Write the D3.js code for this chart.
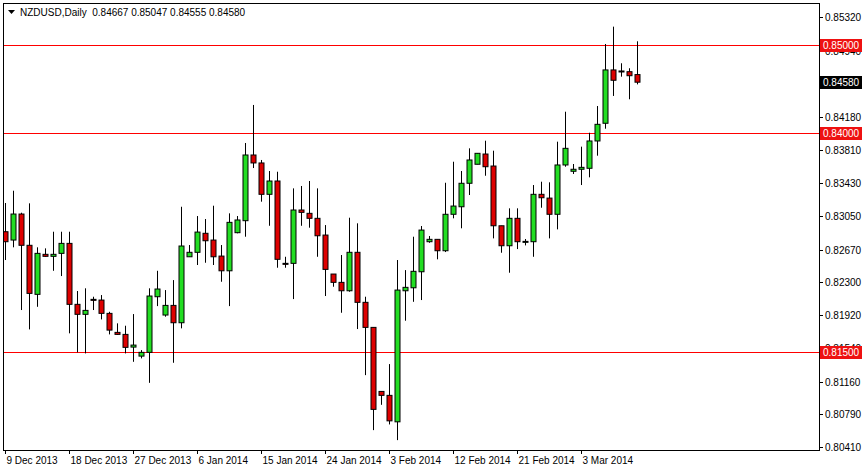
<!DOCTYPE html>
<html>
<head>
<meta charset="utf-8">
<script src="https://cdn.jsdelivr.net/npm/d3@7"></script>
<style>
  body { margin: 0; background: #fff; }
  text { font-family: "Liberation Sans", Arial, sans-serif; font-size: 10px; }
</style>
</head>
<body>
<svg id="chart" width="864" height="470"></svg>
<script>
// daily candles, NZDUSD
var opens  = [0.82873,0.82778,0.83075,0.82718,0.82158,0.82615,0.82592,0.82626,0.82740,0.82044,
              0.81930,0.82101,0.82093,0.81941,0.81724,0.81701,0.81556,0.81453,0.81496,0.82131,
              0.81922,0.82032,0.81834,0.82587,0.82638,0.82855,0.82778,0.82595,0.82427,0.82862,
              0.82999,0.83749,0.83658,0.83300,0.83452,0.82512,0.82512,0.83121,0.83083,0.83026,
              0.82835,0.82390,0.82295,0.82199,0.82638,0.82067,0.81781,0.81050,0.81005,0.80703,
              0.82199,0.82233,0.82416,0.82759,0.82786,0.82656,0.83072,0.83158,0.83426,0.83643,
              0.83760,0.83623,0.82941,0.82713,0.83026,0.82760,0.82759,0.83300,0.83257,0.83072,
              0.83635,0.83563,0.83586,0.83597,0.83909,0.84111,0.84720,0.84708,0.84700,0.84667];
var highs  = [0.83201,0.83341,0.83090,0.83197,0.82695,0.82683,0.82873,0.82873,0.82873,0.82196,
              0.82227,0.82131,0.82150,0.81959,0.81827,0.81800,0.81933,0.81522,0.82227,0.82427,
              0.82207,0.82321,0.83158,0.82721,0.83052,0.83018,0.83170,0.82721,0.83083,0.83052,
              0.83886,0.84320,0.83692,0.83566,0.83558,0.82587,0.83368,0.83395,0.83452,0.83368,
              0.82949,0.82390,0.82607,0.83033,0.82969,0.82131,0.81781,0.81050,0.81362,0.82550,
              0.82435,0.82816,0.82938,0.82824,0.82786,0.83432,0.83672,0.83566,0.83825,0.83768,
              0.83912,0.83798,0.82941,0.83140,0.83140,0.82790,0.83406,0.83444,0.83437,0.83901,
              0.84243,0.83646,0.83844,0.84003,0.84308,0.85016,0.85214,0.84796,0.84739,0.85047];
var lows   = [0.82550,0.82695,0.81979,0.81758,0.82016,0.82587,0.82427,0.82367,0.81713,0.81496,
              0.81484,0.81979,0.81872,0.81701,0.81695,0.81484,0.81388,0.81427,0.81148,0.82024,
              0.81903,0.81377,0.81770,0.82587,0.82493,0.82519,0.82493,0.82302,0.82024,0.82855,
              0.82816,0.83600,0.83216,0.82941,0.82462,0.82462,0.82104,0.82941,0.82919,0.82587,
              0.82139,0.82245,0.81948,0.82188,0.81762,0.81236,0.80608,0.80897,0.80673,0.80494,
              0.81857,0.82073,0.82093,0.82747,0.82558,0.82641,0.83026,0.82912,0.83292,0.83643,
              0.83512,0.82797,0.82633,0.82405,0.82675,0.82717,0.82587,0.83147,0.82797,0.82900,
              0.83615,0.83532,0.83406,0.83494,0.83741,0.84049,0.84423,0.84643,0.84385,0.84555];
var closes = [0.82759,0.83075,0.82718,0.82169,0.82626,0.82592,0.82615,0.82740,0.82044,0.81930,
              0.81975,0.82099,0.81941,0.81750,0.81701,0.81553,0.81579,0.81496,0.82139,0.82219,
              0.82032,0.81834,0.82710,0.82638,0.82869,0.82770,0.82587,0.82427,0.82980,0.83007,
              0.83749,0.83658,0.83300,0.83452,0.82558,0.82510,0.83121,0.83094,0.83026,0.82827,
              0.82443,0.82295,0.82199,0.82638,0.82067,0.81781,0.80845,0.81005,0.80714,0.82207,
              0.82238,0.82421,0.82892,0.82786,0.82656,0.83072,0.83166,0.83426,0.83692,0.83768,
              0.83615,0.82941,0.82713,0.83026,0.82759,0.82763,0.83300,0.83261,0.83072,0.83635,
              0.83825,0.83586,0.83608,0.83909,0.84099,0.84720,0.84602,0.84697,0.84654,0.84580];

var dateLabels = ["9 Dec 2013","18 Dec 2013","27 Dec 2013","6 Jan 2014","15 Jan 2014",
                  "24 Jan 2014","3 Feb 2014","12 Feb 2014","21 Feb 2014","3 Mar 2014"];
var priceTicks = [0.85320,0.84940,0.84580,0.84180,0.83810,0.83430,0.83050,0.82670,
                  0.82300,0.81920,0.81540,0.81160,0.80790,0.80410];
var levels = [0.85000, 0.84000, 0.81500];
var lastPrice = 0.84580;

var svg = d3.select("#chart");
// ojo: "top" es window.top, por eso otros nombres
var pL = 3, pR = 819, pT = 3, pB = 450;

var x = d3.scaleLinear().domain([0, 79]).range([5, 637]);
var y = d3.scaleLinear().domain([0.84, 0.85]).range([133, 45.4]);

// marco
svg.append("rect").attr("x", pL + 0.5).attr("y", pT + 0.5)
  .attr("width", pR - pL).attr("height", pB - pT)
  .attr("fill", "#fff").attr("stroke", "#000");

svg.append("clipPath").attr("id", "plot")
  .append("rect").attr("x", pL + 1).attr("y", pT + 1)
  .attr("width", pR - pL - 1).attr("height", pB - pT - 1);
var plot = svg.append("g").attr("clip-path", "url(#plot)");

// lineas horizontales (rect de 1px para que el color quede limpio)
plot.selectAll(".lvl").data(levels).enter().append("rect")
  .attr("x", pL + 1).attr("width", pR - pL - 1)
  .attr("y", function(d) { return Math.round(y(d)); })
  .attr("height", 1)
  .attr("fill", "#ff0000");

// velas
var idx = d3.range(opens.length);
plot.selectAll(".wick").data(idx).enter().append("line")
  .attr("x1", function(i) { return Math.round(x(i)) + 0.5; })
  .attr("x2", function(i) { return Math.round(x(i)) + 0.5; })
  .attr("y1", function(i) { return y(highs[i]); })
  .attr("y2", function(i) { return y(lows[i]); })
  .attr("stroke", "#000").attr("stroke-width", 1);

plot.selectAll(".body").data(idx).enter().append("rect")
  .attr("x", function(i) { return Math.round(x(i)) - 2; })
  .attr("y", function(i) { return y(Math.max(opens[i], closes[i])); })
  .attr("width", 5)
  .attr("height", function(i) { return Math.max(1, Math.abs(y(opens[i]) - y(closes[i]))); })
  .attr("fill", function(i) { return closes[i] >= opens[i] ? "#22dd22" : "#dd0000"; })
  .attr("stroke", "#000").attr("stroke-width", 1);

// eje de precios
var ax = svg.append("g");
ax.selectAll(".pt").data(priceTicks).enter().append("line")
  .attr("x1", pR).attr("x2", pR + 4)
  .attr("y1", function(d) { return Math.round(y(d)) + 0.5; })
  .attr("y2", function(d) { return Math.round(y(d)) + 0.5; })
  .attr("stroke", "#000");
ax.selectAll(".pl").data(priceTicks).enter().append("text")
  .attr("x", pR + 6).attr("y", function(d) { return y(d) + 4; })
  .text(function(d) { return d.toFixed(5); });

// etiquetas de niveles
function tag(v, fill) {
  var g = svg.append("g");
  g.append("rect").attr("x", pR + 1).attr("y", Math.round(y(v)) - 6)
    .attr("width", 42).attr("height", 13).attr("fill", fill);
  g.append("text").attr("x", pR + 4).attr("y", y(v) + 4)
    .attr("fill", "#fff").text(v.toFixed(5));
}
levels.forEach(function(v) { tag(v, "#ee1111"); });
tag(lastPrice, "#000");

// eje de fechas
var dates = svg.append("g");
dateLabels.forEach(function(lbl, k) {
  var px = Math.round(x(k * 8)) + 0.5;
  dates.append("line").attr("x1", px).attr("x2", px)
    .attr("y1", pB).attr("y2", pB + 4).attr("stroke", "#000");
  dates.append("text").attr("x", px + 1).attr("y", pB + 14).text(lbl);
});

// titulo
svg.append("path").attr("d", "M8,10 L15,10 L11.5,14 Z").attr("fill", "#000");
svg.append("text").attr("x", 20).attr("y", 16).attr("font-size", "10.5px")
  .attr("xml:space", "preserve").style("white-space", "pre")
  .text("NZDUSD,Daily  0.84667 0.85047 0.84555 0.84580");
</script>
</body>
</html>
